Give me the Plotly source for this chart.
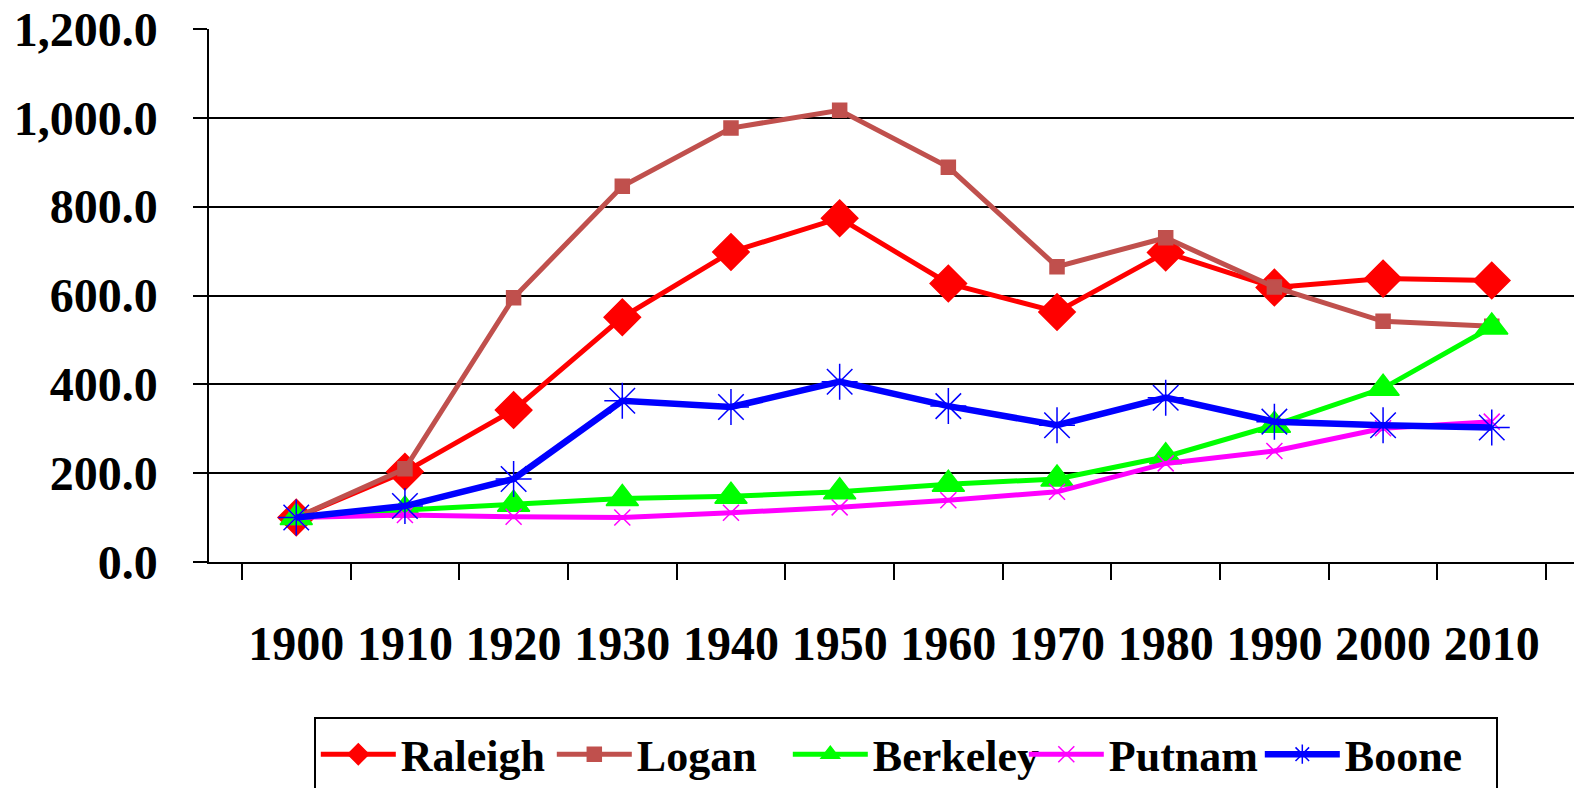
import plotly.graph_objects as go

years = ["1900", "1910", "1920", "1930", "1940", "1950", "1960", "1970", "1980", "1990", "2000", "2010"]
raleigh = [100, 203, 342, 551, 698, 774, 627, 563, 697, 618, 638, 634]
logan = [100, 210, 595, 846, 977, 1017, 889, 665, 730, 619, 542, 531]
berkeley = [100, 117, 130, 143, 148, 158, 175, 187, 237, 308, 391, 529]
putnam = [100, 106, 102, 100, 111, 123, 139, 158, 222, 250, 301, 316]
boone = [100, 126, 187, 363, 349, 406, 351, 308, 370, 316, 308, 303]

y_ticks = [0, 200, 400, 600, 800, 1000, 1200]

series = [
    ("Raleigh", raleigh, "#FF0000", "diamond", 28, 5),
    ("Logan", logan, "#C0504D", "square", 14, 5),
    ("Berkeley", berkeley, "#00FF00", "triangle-up", 28, 5),
    ("Putnam", putnam, "#FF00FF", "x-thin-open", 16, 5),
    ("Boone", boone, "#0000FF", "asterisk-open", 30, 6.5),
]

fig = go.Figure()
for name, vals, color, sym, size, lw in series:
    fig.add_trace(go.Scatter(
        x=years, y=vals, name=name, mode="lines+markers",
        line=dict(color=color, width=lw),
        marker=dict(symbol=sym, size=size, color=color,
                    line=dict(color=color, width=1.5)),
    ))

font_family = "Liberation Serif, Times New Roman, serif"

fig.update_layout(
    width=1574, height=780,
    margin=dict(l=201, r=3, t=21, b=226, autoexpand=False),
    paper_bgcolor="white", plot_bgcolor="white",
    font=dict(family=font_family, color="black"),
    showlegend=True,
    legend=dict(
        orientation="h", x=0.0765, xanchor="left", y=-0.291, yanchor="top",
        bordercolor="black", borderwidth=2, bgcolor="white",
        font=dict(size=44, family=font_family, weight="bold", color="black"),
        itemwidth=75, entrywidth=146, entrywidthmode="pixels",
    ),
    xaxis=dict(
        type="category", tickson="boundaries", ticks="outside", ticklen=16,
        tickcolor="black", tickwidth=1.5,
        showline=True, linecolor="black", linewidth=2,
        showgrid=False, zeroline=False, automargin=False,
        ticklabeloverflow="allow",
        tickfont=dict(size=48, family=font_family, weight="bold", color="black"),
        ticklabelstandoff=38,
    ),
    yaxis=dict(
        range=[0, 1200], tickvals=y_ticks, tickformat=",.1f",
        ticks="outside", ticklen=14, tickcolor="black", tickwidth=1.5,
        showline=True, linecolor="black", linewidth=1.5,
        showgrid=True, gridcolor="black", gridwidth=2,
        zeroline=False, automargin=False,
        ticklabeloverflow="allow",
        tickfont=dict(size=48, family=font_family, weight="bold", color="black"),
        ticklabelstandoff=26,
    ),
)

fig.write_html("out.html")
